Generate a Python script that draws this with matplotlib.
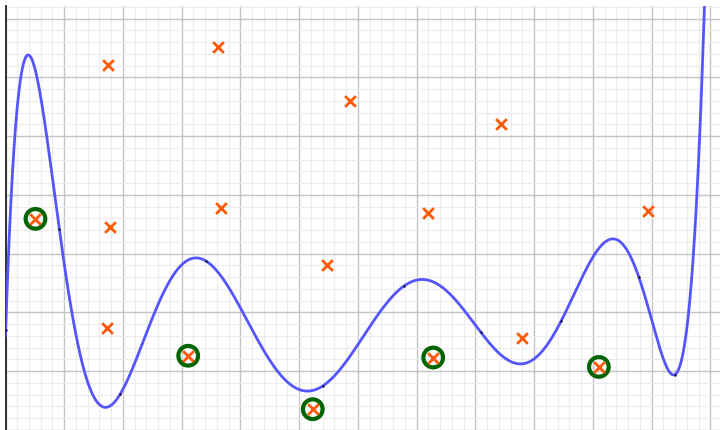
import numpy as np
import matplotlib
matplotlib.use("Agg")
import matplotlib.pyplot as plt
from matplotlib.ticker import MultipleLocator

# Training samples (small black dots) that the polynomial passes through
knot_x = [0.003, 0.916, 1.954, 3.413, 5.399, 6.783, 8.088, 9.455, 10.778, 11.39]
knot_y = [0.703, 2.415, -0.391, 1.872, -0.255, 1.447, 0.663, 0.845, 1.606, -0.063]

# Observations (orange crosses)
obs_x = [0.51, 1.75, 1.78, 1.72, 3.62, 3.66, 3.11, 5.48, 5.87, 5.23,
         7.20, 7.28, 8.44, 8.80, 10.10, 10.93]
obs_y = [2.59, 5.21, 2.45, 0.73, 5.52, 2.77, 0.26, 1.81, 4.60, -0.65,
         2.69, 0.23, 4.21, 0.56, 0.07, 2.72]

# Observations highlighted with a ring
ring_x = [0.51, 3.11, 5.23, 7.28, 10.10]
ring_y = [2.59, 0.26, -0.65, 0.23, 0.07]

fig = plt.figure(figsize=(7.2, 4.31), dpi=100)
ax = fig.add_axes([5.5 / 720, 0, (720 - 5.5) / 720, (431 - 7) / 431])

ax.set_xlim(0, 12.162)
ax.set_ylim(-1.004, 6.213)

ax.xaxis.set_major_locator(MultipleLocator(1))
ax.xaxis.set_minor_locator(MultipleLocator(0.2))
ax.yaxis.set_major_locator(MultipleLocator(1))
ax.yaxis.set_minor_locator(MultipleLocator(0.2))
ax.grid(which="minor", color="#ececec", linewidth=0.8, zorder=0)
ax.grid(which="major", color="#c4c4c4", linewidth=1.0, zorder=0)
ax.set_axisbelow(True)
ax.tick_params(which="both", length=0, labelbottom=False, labelleft=False)
for side in ("top", "right", "bottom"):
    ax.spines[side].set_visible(False)
ax.spines["left"].set_color("#222222")
ax.spines["left"].set_linewidth(1.3)

# Degree-9 polynomial through the training samples
coef = np.polyfit(knot_x, knot_y, len(knot_x) - 1)
xs = np.linspace(-0.05, 12.3, 2000)
ax.plot(xs, np.polyval(coef, xs), color="#5555ff", linewidth=2.0, zorder=3)
ax.scatter(knot_x, knot_y, s=3, color="#111111", zorder=4, linewidths=0)

ax.scatter(ring_x, ring_y, s=200, facecolors="none", edgecolors="#006400",
           linewidths=3.0, zorder=5)
ax.scatter(obs_x, obs_y, marker="x", s=60, color="#ff5a0a", linewidths=2.0,
           zorder=6)

fig.savefig("out.png", dpi=100)
